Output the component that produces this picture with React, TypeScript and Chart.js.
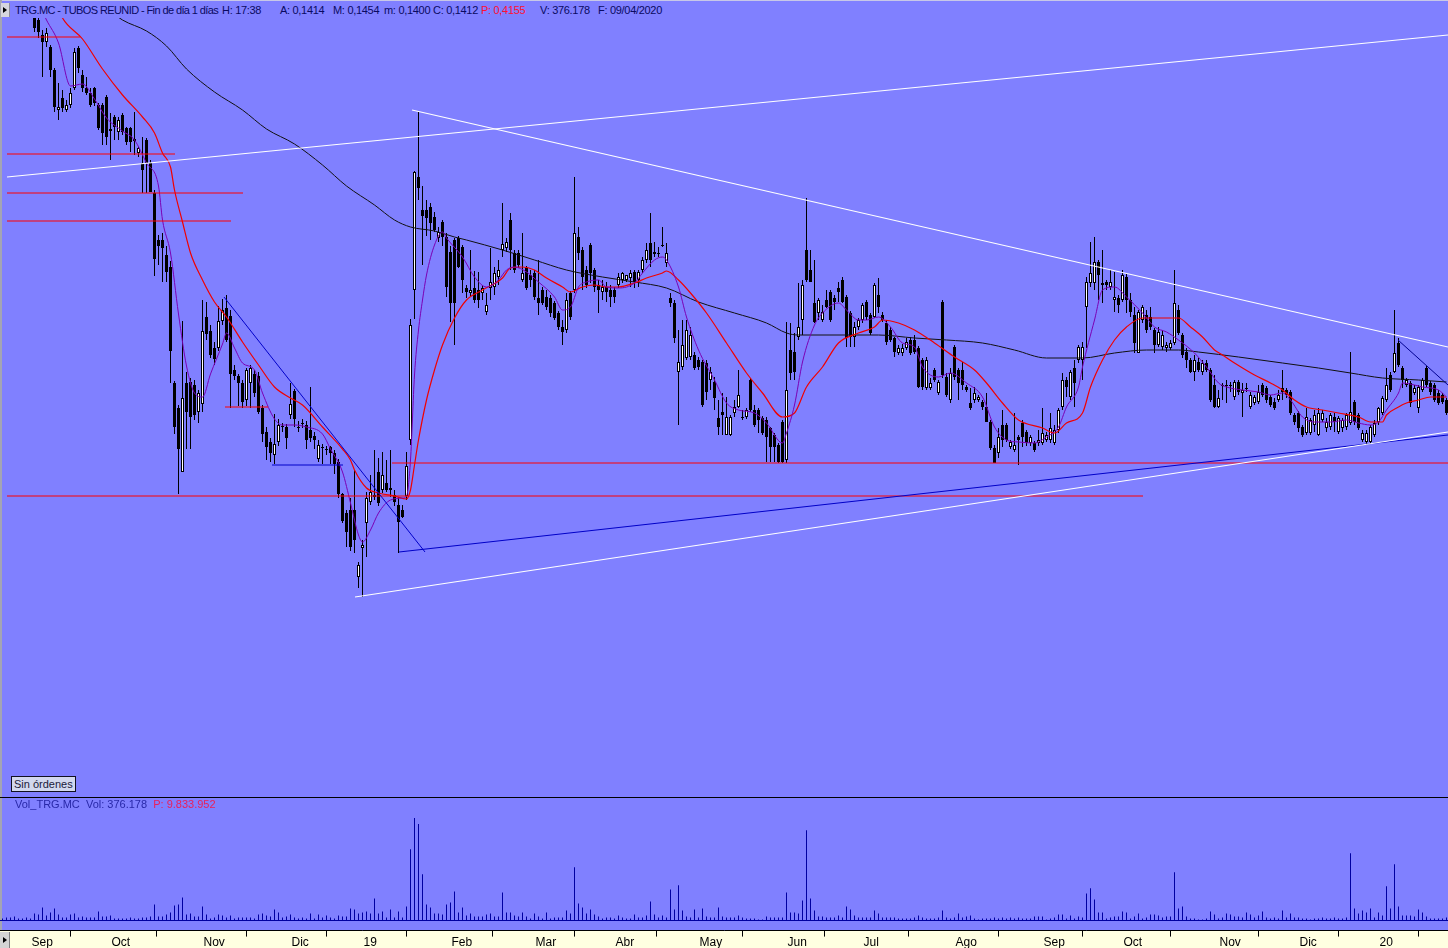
import React, { useEffect, useRef } from 'react';
import { Chart, registerables } from 'chart.js';

Chart.register(...registerables);

// Prices are in thousandths of a euro (e.g. 512 = 0,512 €), one bar per trading day.
const priceOpen = [
  870,860,850,840,845,830,820,810,788,780, 765,758,753,730,690,702,690,695,712,752,
  725,712,707,712,695,695,703,671,683,668, 685,672,672,659,647,637,660,637,607,560,
  560,545,533,417,392,328,417,418,415,388, 396,483,469,452,452,479,492,484,430,424,
  417,400,417,426,424,392,368,358,345,358, 373,373,385,409,373,377,375,370,364,341,
  353,351,353,347,338,306,287,290,290,223, 252,277,298,305,328,310,317,312,305,295,
  290,304,360,510,623,590,590,593,583,562, 578,563,548,560,562,553,512,507,512,510,
  507,488,512,513,523,550,552,580,547,547, 520,532,525,527,502,510,503,502,497,487,
  473,470,507,510,563,550,530,555,530,515, 508,513,510,510,515,520,520,522,528,520,
  530,540,557,548,547,555,537,502,497,428, 433,442,443,445,440,438,437,420,418,382,
  388,365,365,387,393,383,383,420,390,390, 382,380,372,365,355,378,340,450,448,463,
  480,550,530,497,487,480,500,508,502,512, 520,503,487,463,473,480,498,485,483,505,
  485,477,470,462,447,447,452,460,460,452, 440,412,412,430,407,498,423,400,453,430,
  430,413,397,400,400,398,393,378,352,347, 375,375,353,350,363,377,368,357,357,357,
  357,360,360,357,370,393,420,403,432,440, 440,493,517,517,538,517,518,513,500,502,
  500,523,500,485,447,480,485,483,470,455, 453,452,452,457,490,465,448,440,428,438,
  428,437,430,415,393,415,415,415,403,418, 407,412,393,397,398,415,412,403,398,400,
  412,410,408,385,387,373,367,367,375,365, 380,372,373,383,368,372,373,377,398,385,
  360,358,358,365,378,387,400,425,428,457, 432,415,417,407,392,410,432,417,415,407,
  405,400,
];
const priceHigh = [
  880,868,860,852,850,840,830,818,795,785, 770,772,755,732,717,710,700,712,752,754,
  730,723,712,713,697,697,705,687,685,683, 687,673,673,688,653,663,662,640,610,565,
  567,554,539,419,395,479,428,422,420,410, 500,498,475,458,494,501,505,490,435,426,
  420,432,435,430,428,395,373,362,386,381, 377,376,417,411,379,381,379,413,368,360,
  356,354,354,350,341,307,290,302,330,238, 260,308,325,350,342,348,340,350,310,303,
  295,348,481,629,688,614,600,597,588,573, 580,567,554,562,564,555,515,550,529,528,
  515,507,552,533,540,597,562,587,550,550, 567,534,530,530,540,513,510,505,499,489,
  480,507,509,623,573,553,534,557,532,520, 520,518,515,513,527,528,525,530,530,530,
  543,557,587,558,553,573,557,507,500,470, 480,480,473,448,443,440,440,433,423,400,
  407,403,385,400,430,390,392,422,395,392, 384,383,373,367,357,380,478,477,467,517,
  520,602,550,540,502,495,510,510,505,518, 523,505,489,478,482,497,500,487,517,522,
  488,480,473,463,455,456,462,463,465,454, 442,443,422,432,420,500,427,432,455,432,
  438,415,412,413,405,400,407,380,355,372, 390,377,360,387,365,380,370,365,359,370,
  392,368,387,375,392,427,423,430,440,455, 458,523,558,563,540,550,520,530,528,505,
  530,527,507,493,490,495,490,493,472,473, 470,458,460,530,495,467,452,442,445,442,
  440,440,432,425,410,417,420,418,420,420, 417,417,408,405,415,417,414,405,402,410,
  430,412,410,387,389,375,392,382,390,392, 390,382,387,387,384,382,387,448,400,387,
  370,370,375,380,393,404,432,428,490,462, 434,422,419,415,415,422,434,419,417,410,
  407,402,
];
const priceLow = [
  855,845,835,828,825,815,805,792,768,762, 723,753,723,688,680,688,688,692,710,727,
  708,705,693,694,670,655,655,640,660,660, 665,655,648,645,643,607,607,608,524,535,
  518,518,417,366,306,328,351,351,380,377, 388,460,442,435,449,475,458,392,420,394,
  392,394,392,403,386,358,340,338,336,354, 368,351,381,373,368,372,351,358,351,338,
  336,345,336,326,302,277,253,249,247,212, 203,243,295,300,294,307,308,303,294,247,
  282,300,355,481,600,535,564,560,568,558, 554,503,478,455,532,507,502,504,497,492,
  500,485,500,505,515,543,548,530,527,532, 518,510,513,500,485,495,490,483,480,470,
  455,467,480,507,540,510,512,517,508,487, 500,498,493,497,512,517,518,513,512,513,
  527,537,533,543,543,553,533,493,457,375, 430,440,440,430,430,393,400,410,390,365,
  365,365,364,383,392,380,381,388,373,367, 365,338,338,338,337,337,337,420,420,460,
  465,518,518,477,480,478,492,478,490,498, 497,453,453,453,470,477,480,465,482,487,
  478,455,458,443,445,444,450,445,446,412, 410,410,410,418,405,422,403,397,420,400,
  410,408,390,397,398,390,378,350,337,342, 353,358,351,348,335,353,354,354,348,354,
  355,358,357,355,367,390,403,400,393,437, 420,452,513,510,500,497,510,510,488,487,
  498,487,483,447,447,477,467,470,447,453, 450,448,450,455,465,442,432,427,419,428,
  425,428,398,392,392,400,397,408,400,405, 383,408,391,395,396,403,397,393,390,398,
  400,402,385,375,368,363,365,365,368,364, 378,368,370,368,366,368,370,375,375,370,
  358,355,356,363,375,385,398,408,427,433, 412,413,393,405,387,408,413,405,398,395,
  396,385,
];
const priceClose = [
  860,850,840,845,830,820,810,798,772,768, 758,767,730,693,693,692,695,707,748,732,
  712,707,695,697,672,667,663,669,673,680, 668,658,658,661,652,630,637,608,541,554,
  552,528,449,373,351,402,388,383,385,407, 469,466,445,441,479,490,460,426,424,417,
  398,430,432,407,388,366,353,347,356,375, 374,362,396,381,372,376,360,362,360,355,
  352,350,347,336,306,279,268,253,260,235, 255,302,308,303,297,325,310,310,298,278,
  283,334,475,628,612,584,582,577,570,568, 563,513,497,497,533,520,508,510,500,500,
  512,495,518,527,530,556,558,550,530,535, 527,512,520,503,497,497,493,487,482,473,
  468,500,483,567,547,523,515,527,513,510, 513,508,503,503,523,527,525,527,518,528,
  540,550,540,546,546,554,547,497,462,438, 455,470,465,432,433,395,408,428,402,373,
  385,383,383,393,405,382,390,390,375,380, 367,363,353,353,338,338,410,427,428,473,
  515,520,518,478,500,488,493,480,498,508, 498,462,463,473,480,495,483,467,515,493,
  480,458,460,448,452,452,458,447,448,413, 413,440,417,420,418,425,405,427,423,417,
  415,410,392,407,403,393,378,352,337,363, 360,360,358,355,360,363,357,363,350,360,
  367,365,372,370,390,420,413,428,417,453, 453,518,527,538,525,515,515,518,503,495,
  525,500,488,457,488,493,470,473,455,468, 465,455,457,497,467,445,440,428,440,430,
  437,430,400,393,402,414,414,414,418,408, 410,411,405,403,408,405,400,395,392,405,
  408,405,387,378,372,365,383,380,385,387, 387,378,385,378,382,380,385,388,378,372,
  367,367,373,377,392,402,415,410,447,435, 420,420,397,412,413,420,415,408,400,397,
  398,387,
];
// Volume in thousands of shares
const volume = [
  200,300,300,400,200,200,300,200,700,600, 1300,500,800,1200,600,300,300,600,700,300,
  400,300,300,300,900,400,400,500,200,200, 200,200,300,200,200,300,300,400,1600,400,
  400,600,800,1500,1600,2300,600,700,400,400, 1400,600,200,300,600,500,300,500,200,300,
  300,300,300,200,600,700,500,400,1100,800, 300,400,600,300,200,300,200,700,200,600,
  300,500,300,200,500,400,400,1200,1100,700, 800,900,700,2200,700,900,300,1100,300,900,
  300,1400,7100,10200,9600,4600,1600,1300,700,700, 600,1600,1800,2900,800,1300,500,700,400,400,
  400,600,700,400,400,2800,800,800,500,400, 800,400,200,700,400,200,800,200,300,300,
  300,1000,700,5300,1700,1300,700,1100,600,400, 200,300,300,200,500,300,200,200,600,300,
  300,500,1900,600,300,500,300,3100,1100,3500, 1000,400,300,1100,300,1200,400,300,300,1300,
  400,300,300,300,500,300,200,200,200,100, 100,400,300,300,300,300,2800,800,800,700,
  2000,9000,2200,1000,400,400,300,300,300,500, 300,1400,1100,500,300,300,300,300,1000,700,
  300,300,300,300,200,200,200,200,300,500, 300,200,200,200,300,1000,300,200,300,700,
  300,400,500,200,100,200,200,200,300,200, 300,200,300,200,300,200,200,200,400,400,
  400,100,200,300,600,600,200,500,200,400, 300,2700,3200,2100,800,800,200,300,400,400,
  900,800,200,400,700,200,300,600,600,500, 300,400,400,4800,1200,1400,400,200,200,100,
  100,200,900,600,200,300,700,600,400,400, 300,800,600,300,500,900,300,200,300,200,
  1000,300,700,300,300,200,200,100,200,200, 300,200,200,300,200,200,300,6700,1200,700,
  1000,800,1200,300,800,500,3400,1200,5600,1400, 500,500,500,400,1100,800,400,200,200,200,
  200,300,
];

// Moving averages: [bar index, price]
const maFast: [number, number][] = [
  [8,805],[11,780],[14,757],[17,714],[20,716],[23,701],[26,682],[30,669],[33,660],[36,637],
  [39,614],[40,580],[42,547],[44,486],[46,434],[48,407],[50,403],[52,426],[55,456],[56,467],
  [58,452],[60,437],[63,430],[65,407],[68,381],[70,375],[73,375],[76,373],[80,366],[82,351],
  [85,328],[87,297],[89,265],[90,258],[92,270],[94,287],[97,300],[100,302],[101,304],[102,340],
  [103,425],[104,470],[105,500],[106,525],[108,555],[110,568],[111,562],[115,543],[118,523],[121,513],
  [124,520],[126,530],[128,533],[131,528],[134,518],[138,503],[140,490],[142,493],[144,513],[146,518],
  [149,520],[151,513],[154,512],[158,517],[160,527],[163,540],[165,543],[166,540],[169,513],[171,483],
  [174,450],[178,420],[181,397],[184,390],[188,387],[191,377],[195,357],[196,367],[198,395],[200,438],
  [203,475],[205,487],[209,497],[211,490],[214,480],[216,480],[219,483],[222,473],[225,457],[228,453],
  [230,433],[234,423],[237,427],[241,417],[245,403],[248,373],[251,360],[254,358],[258,357],[261,363],
  [264,373],[266,393],[269,413],[270,433],[273,480],[275,510],[278,513],[281,503],[285,487],[288,473],
  [291,468],[294,460],[298,447],[301,433],[304,417],[306,413],[310,410],[314,408],[317,405],[320,407],
  [322,400],[325,383],[328,378],[332,378],[336,380],[339,377],[342,375],[344,378],[346,390],[349,407],
  [350,417],[353,415],[355,413],[359,410],[361,403],
];
const maMid: [number, number][] = [
  [10,830],[15,782],[20,761],[25,731],[30,705],[35,683],[38,667],[40,647],[42,633],[43,610],
  [45,578],[47,547],[50,520],[53,498],[56,483],[60,458],[64,435],[68,413],[72,402],[75,395],
  [80,373],[85,351],[87,340],[88,330],[91,312],[94,307],[98,304],[101,301],[102,310],[103,335],
  [104,360],[106,400],[108,430],[110,455],[113,482],[116,500],[120,510],[125,522],[127,532],[130,533],
  [133,530],[136,522],[140,513],[142,508],[145,513],[148,515],[151,513],[154,513],[158,517],[161,522],
  [165,527],[166,529],[169,520],[172,507],[176,487],[181,457],[186,427],[190,407],[195,383],[198,387],
  [201,413],[205,433],[209,457],[214,467],[218,473],[220,480],[224,477],[228,470],[233,457],[238,443],
  [243,430],[246,417],[250,397],[254,380],[260,372],[263,367],[266,377],[270,387],[272,413],[275,440],
  [278,460],[281,473],[285,482],[291,482],[294,482],[297,473],[300,463],[303,450],[305,445],[308,437],
  [313,425],[317,417],[320,410],[323,400],[326,393],[330,390],[334,387],[339,383],[342,378],[345,378],
  [346,385],[349,393],[351,397],[354,400],[357,403],[361,403],
];
const maSlow: [number, number][] = [
  [20,810],[30,780],[36,769],[41,754],[46,731],[53,708],[60,690],[66,671],[73,656],[80,635],
  [86,614],[93,595],[98,580],[102,573],[108,569],[113,563],[116,560],[125,550],[133,540],[141,530],
  [150,523],[158,518],[166,512],[174,498],[183,487],[191,477],[196,467],[199,465],[211,465],[219,465],
  [228,462],[236,460],[245,457],[253,450],[261,442],[270,442],[278,447],[286,450],[294,450],[299,448],
  [309,443],[320,437],[329,432],[337,427],[345,422],[354,420],[361,418],
];

// Drawn trend lines and support/resistance levels: [bar index, price]
const whiteUpper: [number, number][] = [[1.125, 623], [361.375, 765]];
const whiteFalling: [number, number][] = [[102.375, 690], [361.375, 453]];
const whiteRising: [number, number][] = [[88.125, 203], [361.375, 368]];
const blueFalling: [number, number][] = [[55.375, 503], [105.625, 248]];
const blueRising: [number, number][] = [[99.125, 248], [361.375, 365]];
const blueFlat: [number, number][] = [[67.375, 335], [85.125, 335]];
const navyShort: [number, number][] = [[348.875, 460], [361.375, 415]];
const redLevels: [number, number, number][] = [
  // [from index, to index, price]
  [1.125, 19.375, 763],
  [1.125, 43.125, 646],
  [1.125, 60.125, 607],
  [1.125, 57.125, 579],
  [1.125, 285.125, 304],
  [97.375, 361.375, 337],
  [55.625, 66.375, 393],
];

const monthTickIdx = [7, 27, 50, 72, 90, 112, 133, 153, 174, 196, 215, 238, 260, 280, 304, 324, 344];
const monthTickLabels = ['Sep', 'Oct', 'Nov', 'Dic', '19', 'Feb', 'Mar', 'Abr', 'May', 'Jun', 'Jul', 'Ago', 'Sep', 'Oct', 'Nov', 'Dic', '20'];

const headerTitle = 'TRG.MC - TUBOS REUNID - Fin de día 1 días';
const headerFields = ['H: 17:38', 'A: 0,1414', 'M: 0,1454', 'm: 0,1400', 'C: 0,1412', 'P: 0,4155', 'V: 376.178', 'F: 09/04/2020'];
const headerFieldX = [222, 280, 333, 384, 433, 481, 540, 598];

const FONT = "'Liberation Sans', Arial, sans-serif";
const X_MIN = -0.625;
const X_MAX = priceClose.length - 0.625;

const toXY = (pairs: [number, number][]) => pairs.map(([x, y]) => ({ x, y }));

function lineDs(pairs: [number, number][], color: string, width: number, smooth: boolean, order: number) {
  return {
    type: 'line' as const,
    data: toXY(pairs),
    borderColor: color,
    borderWidth: width,
    pointRadius: 0,
    fill: false,
    cubicInterpolationMode: smooth ? ('monotone' as const) : ('default' as const),
    tension: 0,
    order,
  };
}

const Tri = () => (
  <div style={{ width: 0, height: 0, borderTop: '3px solid transparent', borderBottom: '3px solid transparent', borderLeft: '4px solid #000' }} />
);

export default function App() {
  const priceRef = useRef<HTMLCanvasElement>(null);
  const volRef = useRef<HTMLCanvasElement>(null);

  useEffect(() => {
    const idx = priceClose.map((_, i) => i);
    const wicks = idx.map((i) => ({ x: i, y: [priceLow[i], priceHigh[i]] }));
    const bodies = idx.map((i) => ({ x: i, y: [Math.min(priceOpen[i], priceClose[i]), Math.max(priceOpen[i], priceClose[i])] }));
    const bodyFill = idx.map((i) => (priceClose[i] > priceOpen[i] ? '#FFFFFF' : '#000000'));

    const levelDs = redLevels.map(([a, b, p]) =>
      lineDs([[a, p], [b, p]], '#FF0000', 1, false, 0)
    );

    const priceChart = new Chart(priceRef.current as HTMLCanvasElement, {
      type: 'bar',
      data: {
        datasets: [
          lineDs(whiteUpper, '#FFFFFF', 1.2, false, 0),
          lineDs(whiteFalling, '#FFFFFF', 1.2, false, 0),
          lineDs(whiteRising, '#FFFFFF', 1.2, false, 0),
          lineDs(blueFalling, '#0000C8', 1, false, 0),
          lineDs(blueRising, '#0000C8', 1.2, false, 0),
          lineDs(blueFlat, '#0000C8', 1, false, 0),
          lineDs(navyShort, '#000090', 1, false, 0),
          ...levelDs,
          lineDs(maFast, '#7A00B4', 1, true, 1),
          lineDs(maMid, '#F00000', 1.2, true, 1),
          lineDs(maSlow, '#101010', 1, true, 1),
          {
            type: 'bar',
            data: bodies,
            backgroundColor: bodyFill,
            borderColor: '#000000',
            borderWidth: 1,
            borderSkipped: false,
            barThickness: 3,
            minBarLength: 1,
            grouped: false,
            inflateAmount: 0,
            order: 5,
          },
          {
            type: 'bar',
            data: wicks,
            backgroundColor: '#000000',
            borderWidth: 0,
            barThickness: 1,
            minBarLength: 1,
            grouped: false,
            inflateAmount: 0,
            order: 6,
          },
        ] as any,
      },
      options: {
        responsive: false,
        animation: false,
        events: [],
        layout: { padding: 0 },
        plugins: { legend: { display: false }, tooltip: { enabled: false } },
        scales: {
          x: { type: 'linear', min: X_MIN, max: X_MAX, display: false, offset: false, bounds: 'data' },
          y: { type: 'linear', min: 4, max: 782, display: false },
        },
      } as any,
    });

    const volChart = new Chart(volRef.current as HTMLCanvasElement, {
      type: 'bar',
      data: {
        datasets: [
          lineDs([[X_MIN, 0], [X_MAX, 0]], '#0000A0', 1, false, 0),
          {
            type: 'bar',
            data: idx.map((i) => ({ x: i, y: volume[i] })),
            backgroundColor: '#0000A0',
            borderWidth: 0,
            barThickness: 1,
            grouped: false,
            inflateAmount: 0,
            order: 2,
          },
        ] as any,
      },
      options: {
        responsive: false,
        animation: false,
        events: [],
        layout: { padding: 0 },
        plugins: { legend: { display: false }, tooltip: { enabled: false } },
        scales: {
          x: {
            type: 'linear',
            min: X_MIN,
            max: X_MAX,
            offset: false,
            bounds: 'data',
            position: 'bottom',
            afterBuildTicks: (s: any) => {
              s.ticks = monthTickIdx.map((v) => ({ value: v }));
            },
            grid: { display: true, drawOnChartArea: false, drawTicks: true, tickLength: 6, color: '#000000', lineWidth: 1 },
            border: { display: true, color: '#000000', width: 1 },
            ticks: {
              autoSkip: false,
              maxRotation: 0,
              minRotation: 0,
              align: 'start',
              padding: -1,
              labelOffset: 1,
              color: '#000000',
              font: { family: FONT, size: 12 },
              callback: (v: any) => {
                const k = monthTickIdx.indexOf(Number(v));
                return k >= 0 ? monthTickLabels[k] : '';
              },
            },
          },
          y: { type: 'linear', min: -1005, max: 12000, display: false },
        },
      } as any,
    });

    return () => {
      priceChart.destroy();
      volChart.destroy();
    };
  }, []);

  const hdr: React.CSSProperties = { position: 'absolute', top: 3, fontSize: 11, lineHeight: '14px', whiteSpace: 'nowrap', color: '#0A0A62', letterSpacing: '-0.3px' };

  return (
    <div
      style={{
        position: 'fixed',
        left: 0,
        top: 0,
        width: 1448,
        height: 948,
        overflow: 'hidden',
        background: '#8080FF',
        fontFamily: FONT,
      }}
    >
      {/* top edge and left edge */}
      <div style={{ position: 'absolute', left: 0, top: 0, width: 1448, height: 1, background: '#C8C8E8' }} />
      <div style={{ position: 'absolute', left: 0, top: 0, width: 2, height: 931, background: '#A4A4B4' }} />

      {/* x axis strip background */}
      <div style={{ position: 'absolute', left: 0, top: 931, width: 1448, height: 17, background: '#FFFFE1' }} />

      <canvas ref={priceRef} width={1448} height={778} style={{ position: 'absolute', left: 0, top: 18, width: 1448, height: 778 }} />

      {/* separator between price and volume panes */}
      <div style={{ position: 'absolute', left: 0, top: 797, width: 1448, height: 1, background: '#000000' }} />

      <canvas ref={volRef} width={1448} height={149} style={{ position: 'absolute', left: 0, top: 800, width: 1448, height: 149 }} />

      {/* header */}
      <div style={{ position: 'absolute', left: 1, top: 3, width: 8, height: 14, background: '#D6D6DE', borderRight: '1px solid #8A8A9A', display: 'flex', alignItems: 'center', justifyContent: 'center' }}>
        <Tri />
      </div>
      <div style={{ ...hdr, left: 15, letterSpacing: '-0.6px' }}>{headerTitle}</div>
      {headerFields.map((f, k) => (
        <div key={f} style={{ ...hdr, left: headerFieldX[k], color: f.startsWith('P:') ? '#FF1030' : '#0A0A62' }}>
          {f}
        </div>
      ))}

      {/* orders button */}
      <div
        style={{
          position: 'absolute',
          left: 11,
          top: 776,
          width: 61,
          height: 14,
          border: '1px solid #101020',
          background: '#D2D8EE',
          fontSize: 11,
          lineHeight: '14px',
          color: '#1A1A3A',
          paddingLeft: 2,
          whiteSpace: 'nowrap',
        }}
      >
        Sin órdenes
      </div>

      {/* volume legend */}
      <div style={{ position: 'absolute', left: 15, top: 797, fontSize: 11, lineHeight: '14px', whiteSpace: 'nowrap', color: '#2828A8' }}>
        Vol_TRG.MC&nbsp; Vol: 376.178&nbsp; <span style={{ color: '#E8205C' }}>P: 9.833.952</span>
      </div>

      {/* axis strip button */}
      <div style={{ position: 'absolute', left: 0, top: 932, width: 9, height: 16, background: '#D4D4D4', borderRight: '1px solid #808080', display: 'flex', alignItems: 'center', justifyContent: 'center' }}>
        <Tri />
      </div>
    </div>
  );
}
